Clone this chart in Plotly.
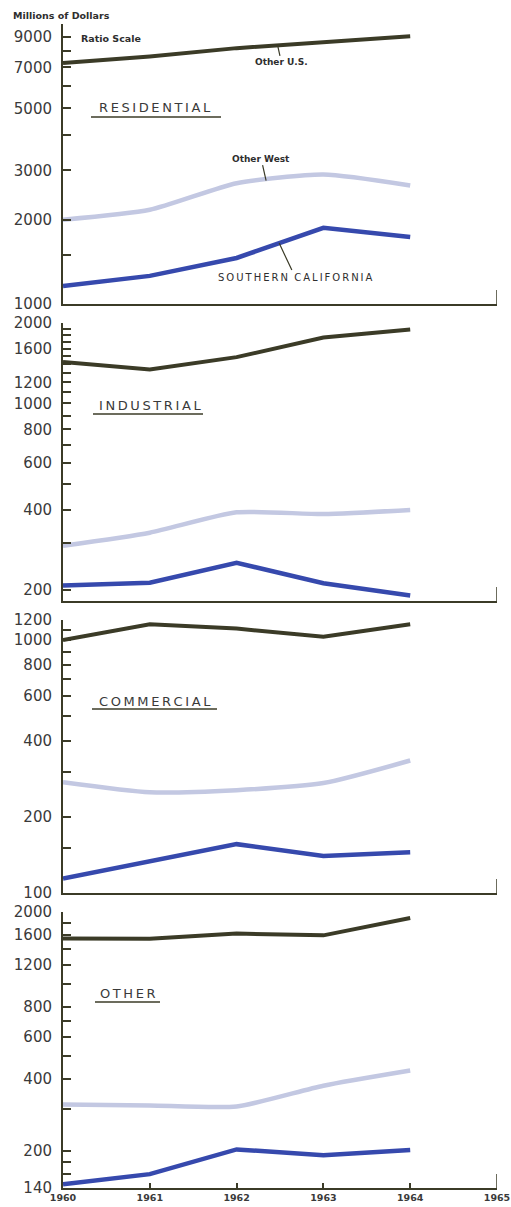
import math
import plotly.graph_objects as go

W, H = 511, 1207

years = [1960, 1961, 1962, 1963, 1964]

# Residential
res_other_us = [7250, 7650, 8200, 8650, 9050]
res_other_west = [2000, 2170, 2700, 2900, 2650]
res_so_cal = [1160, 1260, 1460, 1870, 1735]

# Industrial
ind_other_us = [1430, 1340, 1490, 1765, 1890]
ind_other_west = [293, 328, 391, 385, 399]
ind_so_cal = [208, 213, 253, 212, 191]

# Commercial
com_other_us = [1000, 1155, 1110, 1030, 1155]
com_other_west = [274, 250, 255, 272, 334]
com_so_cal = [114, 133, 156, 140, 145]

# Other
oth_other_us = [1548, 1545, 1624, 1597, 1888]
oth_other_west = [313, 310, 307, 375, 434]
oth_so_cal = [145, 160, 203, 192, 202]

panel_titles = ["RESIDENTIAL", "INDUSTRIAL", "COMMERCIAL", "OTHER"]

# tick values (labelled and unlabelled) per panel
p1_ticks = [1000, 1500, 2000, 3000, 4000, 5000, 6000, 7000, 8000, 9000, 10000]
p1_labels = [1000, 2000, 3000, 5000, 7000, 9000]
p2_ticks = [200, 300, 400, 500, 600, 700, 800, 900, 1000, 1100, 1200, 1300, 1400,
            1500, 1600, 1700, 1800, 1900, 2000]
p2_labels = [200, 400, 600, 800, 1000, 1200, 1600, 2000]
p3_ticks = [100, 150, 200, 300, 400, 500, 600, 700, 800, 900, 1000, 1100, 1200]
p3_labels = [100, 200, 400, 600, 800, 1000, 1200]
p4_ticks = [140, 160, 180, 200, 300, 400, 500, 600, 700, 800, 1000, 1200, 1400,
            1600, 1800, 2000]
p4_labels = [140, 200, 400, 600, 800, 1200, 1600, 2000]

x_ticks = [1960, 1961, 1962, 1963, 1964, 1965]

DARK = "#3b3b27"
BLUE = "#3649ad"
LIGHT = "#c3c8e2"
TXT = "#3a3a3a"

panels = [
    (res_other_us, res_other_west, res_so_cal, p1_ticks, p1_labels, (24, 304), (1000, 10000)),
    (ind_other_us, ind_other_west, ind_so_cal, p2_ticks, p2_labels, (323, 601), (182, 2000)),
    (com_other_us, com_other_west, com_so_cal, p3_ticks, p3_labels, (620, 893), (100, 1200)),
    (oth_other_us, oth_other_west, oth_so_cal, p4_ticks, p4_labels, (912, 1188), (140, 2000)),
]

fig = go.Figure()
layout = {}
shapes = []
annotations = []

xdom = [63 / W, 497 / W]

for i, (us, west, sc, ticks, labels, (ptop, pbot), (ymin, ymax)) in enumerate(panels):
    n = "" if i == 0 else str(i + 1)
    xa, ya = "x" + n, "y" + n
    fig.add_trace(go.Scatter(x=years, y=west, xaxis=xa, yaxis=ya, mode="lines",
                             line=dict(color=LIGHT, width=4.5, shape="spline", smoothing=0.6),
                             hoverinfo="skip", showlegend=False))
    fig.add_trace(go.Scatter(x=years, y=sc, xaxis=xa, yaxis=ya, mode="lines",
                             line=dict(color=BLUE, width=4.5),
                             hoverinfo="skip", showlegend=False))
    fig.add_trace(go.Scatter(x=years, y=us, xaxis=xa, yaxis=ya, mode="lines",
                             line=dict(color=DARK, width=4),
                             hoverinfo="skip", showlegend=False))
    last = i == 3
    layout["xaxis" + n] = dict(
        domain=xdom, range=[1960, 1965], anchor=ya, automargin=False,
        showline=True, linecolor=DARK, linewidth=2, showgrid=False, zeroline=False,
        ticks="inside" if last else "", ticklen=5, tickwidth=1.5, tickcolor=DARK,
        tickmode="array", tickvals=x_ticks if last else [],
        ticktext=["<b>%d</b>" % v for v in x_ticks] if last else [],
        showticklabels=last,
        tickfont=dict(family="DejaVu Sans", size=9.5, color=TXT),
    )
    layout["yaxis" + n] = dict(
        domain=[1 - pbot / H, 1 - ptop / H], type="log", automargin=False,
        range=[math.log10(ymin), math.log10(ymax)], anchor=xa,
        showline=True, linecolor=DARK, linewidth=2, showgrid=False, zeroline=False,
        ticks="inside", ticklen=8, tickwidth=1.5, tickcolor=DARK,
        tickmode="array", tickvals=ticks,
        ticktext=[str(v) if v in labels else "" for v in ticks],
        tickfont=dict(family="DejaVu Sans", size=15, color=TXT),
        ticklabelstandoff=6,
    )
    # tall end tick at 1965
    shapes.append(dict(type="line", xref=xa, yref=ya + " domain", x0=1965, x1=1965,
                       y0=0, y1=14 / (pbot - ptop), line=dict(color=DARK, width=1.5)))

# Panel titles with underline
title_pos = [(97, 108, 91, 221, 117), (97, 405, 93, 203, 414),
             (97, 701, 92, 217, 709), (98, 993, 95, 160, 1002)]
for t, (tx, ty, u0, u1, uy) in zip(panel_titles, title_pos):
    annotations.append(dict(text="\u2009".join(t), xref="paper", yref="paper",
                            x=tx / W, y=1 - ty / H, xanchor="left", yanchor="middle",
                            showarrow=False,
                            font=dict(family="DejaVu Sans", size=13, color=TXT)))
    shapes.append(dict(type="line", xref="paper", yref="paper", x0=u0 / W, x1=u1 / W,
                       y0=1 - uy / H, y1=1 - uy / H, line=dict(color=DARK, width=1.5)))

annotations.append(dict(text="<b>Millions of Dollars</b>", xref="paper", yref="paper",
                        x=11 / W, y=1 - 16 / H, xanchor="left", yanchor="middle", showarrow=False,
                        font=dict(family="DejaVu Sans", size=9.5, color="#2e2e2e")))
annotations.append(dict(text="<b>Ratio Scale</b>", xref="paper", yref="paper",
                        x=79 / W, y=1 - 38 / H, xanchor="left", yanchor="middle", showarrow=False,
                        font=dict(family="DejaVu Sans", size=9.5, color="#2e2e2e")))

# leader-line labels (log axes: annotation y in log10 units)
annotations.append(dict(text="<b>Other U.S.</b>", x=1962.47, y=math.log10(8450),
                        xref="x", yref="y",
                        ax=4, ay=18, showarrow=True, arrowhead=0, arrowwidth=1.2,
                        arrowcolor=DARK, standoff=0,
                        font=dict(family="DejaVu Sans", size=9, color="#2e2e2e")))
annotations.append(dict(text="<b>Other West</b>", x=1962.34, y=math.log10(2760),
                        xref="x", yref="y",
                        ax=-5, ay=-22, showarrow=True, arrowhead=0, arrowwidth=1.2,
                        arrowcolor=DARK, standoff=0,
                        font=dict(family="DejaVu Sans", size=9, color="#2e2e2e")))
annotations.append(dict(text="\u2009".join("SOUTHERN") + "  " + "\u2009".join("CALIFORNIA"),
                        x=1962.49, y=math.log10(1650), xref="x", yref="y",
                        ax=16, ay=34, showarrow=True, arrowhead=0, arrowwidth=1.2,
                        arrowcolor=DARK, standoff=0,
                        font=dict(family="DejaVu Sans", size=10, color="#2e2e2e")))

fig.update_layout(
    width=W, height=H, margin=dict(l=0, r=0, t=0, b=0, autoexpand=False),
    paper_bgcolor="white", plot_bgcolor="white",
    shapes=shapes, annotations=annotations, showlegend=False,
    **layout,
)

fig.write_html("out.html", config={"displayModeBar": False})
